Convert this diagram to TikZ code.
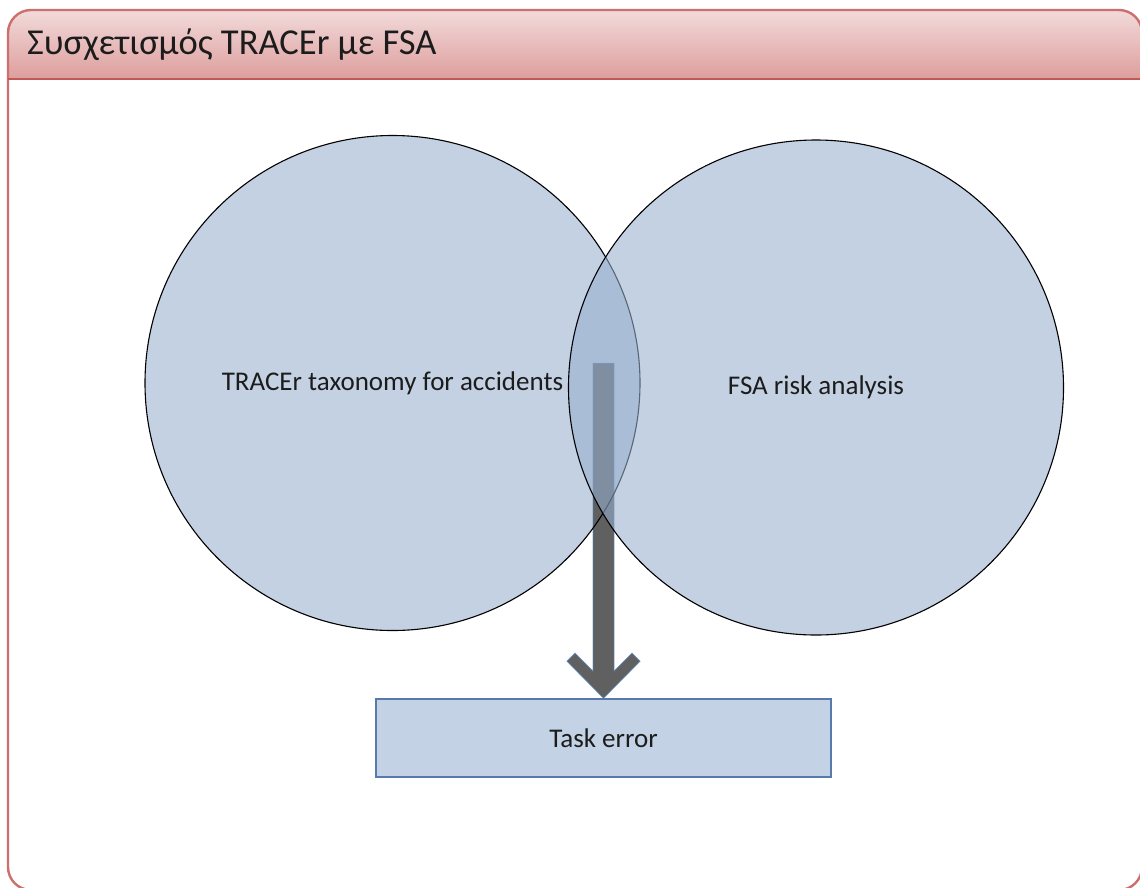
\documentclass[tikz,border=0pt]{standalone}
\usepackage{fontspec}
\setmainfont{Carlito}
\definecolor{frameRed}{RGB}{204,112,110}
\definecolor{barLine}{RGB}{192,88,86}
\definecolor{barTop}{RGB}{242,218,218}
\definecolor{barBot}{RGB}{221,158,157}
\definecolor{vennBlue}{RGB}{152,176,208}
\definecolor{arrowEdge}{RGB}{79,129,189}
\definecolor{boxFill}{RGB}{195,210,229}
\definecolor{boxLine}{RGB}{88,122,170}
\definecolor{arrowGrey}{RGB}{96,96,96}
\definecolor{inkText}{RGB}{28,28,28}
\tikzset{
  setfill/.style={circle, fill=vennBlue, fill opacity=0.58, text opacity=1,
    minimum size=495pt, inner sep=0pt, text=inkText,
    font=\fontsize{27}{32}\selectfont},
  setcircle/.style={setfill, draw=black, line width=1.1pt, draw opacity=1},
  setoutline/.style={draw=black, line width=1.1pt},
  resultbox/.style={rectangle, draw=boxLine, line width=1.6pt, fill=boxFill,
    minimum width=455pt, minimum height=78pt, inner sep=0pt, text=inkText,
    font=\fontsize{27}{32}\selectfont},
  bigarrow/.style={fill=arrowGrey, draw=arrowEdge, draw opacity=0.7, line width=0.9pt},
  panelframe/.style={draw=frameRed, line width=2.4pt, rounded corners=23pt},
}
\begin{document}
\begin{tikzpicture}[x=1pt,y=-1pt]
\useasboundingbox (0,0) rectangle (1140,887);
\clip (0,0) rectangle (1140,887);

% panel: white body, gradient title bar, rounded outline
\fill[white] (0,0) rectangle (1140,887);
\begin{scope}
  \clip[rounded corners=23pt] (8,10) rectangle (1142,890);
  \shade[top color=barTop, bottom color=barBot] (8,10) rectangle (1142,79);
\end{scope}
\draw[panelframe] (8,10) rectangle (1142,890);
\draw[barLine, line width=1.8pt] (8,79) -- (1142,79);
\node[anchor=west, text=inkText, font=\fontsize{36.5}{42}\selectfont, inner sep=0pt]
  (title) at (27,45) {Συσχετισμός TRACEr με FSA};

% outcome box
\node[resultbox] (task) at (603.5,738) {Task error};

% left set (fill first, outline after the arrow)
\node[setfill] (tracer) at (392.5,383) {TRACEr taxonomy for accidents};

% block arrow from the overlap down to the box
\coordinate (overlap) at (603.5,365);
\begin{scope}[shift={(task.north)}]
  \draw[bigarrow] (-10.5,-335) -- (10.5,-335) -- (10.5,-27) -- (28.5,-45)
    -- (36.5,-37) -- (0,0) -- (-36.5,-37) -- (-28.5,-45) -- (-10.5,-27) -- cycle;
\end{scope}
\draw[setoutline] (tracer.center) circle[radius=247.5];

% right set, laid over the arrow
\node[setcircle] (fsa) at (816,387.5) {FSA risk analysis};
\end{tikzpicture}
\end{document}
